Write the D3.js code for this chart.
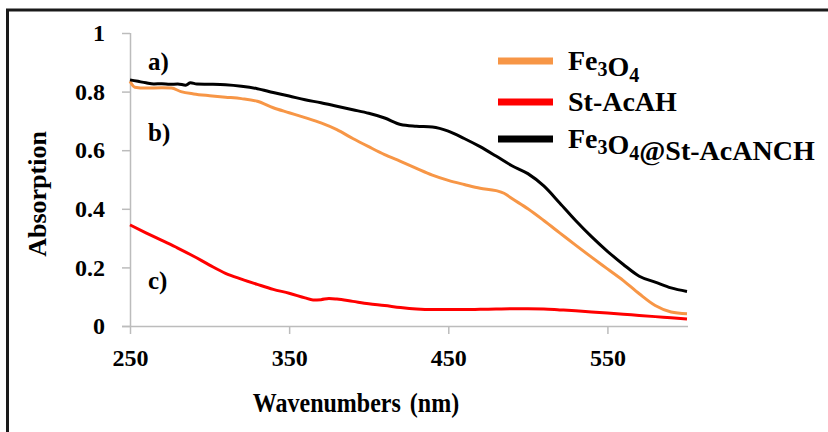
<!DOCTYPE html>
<html>
<head>
<meta charset="utf-8">
<script src="https://cdn.jsdelivr.net/npm/d3@7"></script>
<style>
  body { margin: 0; background: #fff; }
</style>
</head>
<body>
<div id="chart"></div>
<script>
// Define SVG area dimensions
var svgWidth = 828;
var svgHeight = 432;
var serif = "Liberation Serif";

// wavelengths and absorption values
var wlFe3O4 = [250, 253, 260, 270, 276, 282, 290, 300, 310, 320, 330, 340, 350, 360, 370, 380, 390, 400, 410, 420, 430, 440, 450, 460, 470, 480, 485, 490, 500, 510, 520, 530, 540, 550, 560, 570, 580, 590, 600];
var absFe3O4 = [0.835, 0.815, 0.812, 0.813, 0.812, 0.800, 0.792, 0.786, 0.781, 0.776, 0.767, 0.745, 0.728, 0.711, 0.693, 0.670, 0.640, 0.612, 0.585, 0.562, 0.538, 0.515, 0.497, 0.483, 0.470, 0.462, 0.453, 0.435, 0.400, 0.360, 0.318, 0.276, 0.235, 0.195, 0.155, 0.110, 0.070, 0.048, 0.042];

var wlStAcAH = [250, 260, 270, 280, 290, 300, 310, 320, 330, 340, 350, 360, 365, 370, 375, 380, 390, 400, 410, 420, 430, 440, 450, 460, 470, 480, 490, 500, 510, 520, 530, 540, 550, 560, 570, 580, 590, 600];
var absStAcAH = [0.345, 0.318, 0.292, 0.266, 0.238, 0.208, 0.180, 0.160, 0.142, 0.125, 0.112, 0.096, 0.089, 0.090, 0.094, 0.092, 0.084, 0.076, 0.070, 0.063, 0.058, 0.056, 0.056, 0.056, 0.057, 0.058, 0.059, 0.059, 0.058, 0.055, 0.052, 0.048, 0.044, 0.040, 0.036, 0.032, 0.028, 0.024];

var wlComposite = [250, 255, 260, 265, 270, 275, 280, 285, 288, 292, 300, 310, 320, 330, 340, 350, 360, 370, 380, 390, 400, 410, 420, 430, 440, 450, 460, 470, 480, 490, 500, 510, 520, 530, 540, 550, 560, 570, 580, 590, 600];
var absComposite = [0.840, 0.835, 0.830, 0.826, 0.827, 0.825, 0.826, 0.822, 0.830, 0.826, 0.825, 0.823, 0.818, 0.810, 0.797, 0.785, 0.772, 0.762, 0.750, 0.738, 0.726, 0.710, 0.688, 0.682, 0.679, 0.665, 0.640, 0.612, 0.580, 0.547, 0.520, 0.478, 0.420, 0.360, 0.305, 0.255, 0.210, 0.170, 0.150, 0.130, 0.118];

var xTicks = [250, 350, 450, 550];
var yTicks = [0, 0.2, 0.4, 0.6, 0.8, 1];

var seriesNames = ["Fe3O4", "St-AcAH", "Fe3O4@St-AcANCH"];
var seriesColors = ["#f79646", "#ff0000", "#000000"];
var curveLabels = ["a)", "b)", "c)"];
var curveLabelValues = [0.904, 0.662, 0.157];

var svg = d3.select("#chart")
    .append("svg")
    .attr("width", svgWidth)
    .attr("height", svgHeight)
    .attr("font-family", serif)
    .attr("font-weight", "bold");

// outer frame (only top and left edges show in the picture)
svg.append("rect")
    .attr("x", 7.5)
    .attr("y", 10)
    .attr("width", 900)
    .attr("height", 500)
    .attr("fill", "none")
    .attr("stroke", "#1a1a1a")
    .attr("stroke-width", 3);

// create scales
var xScale = d3.scaleLinear()
    .domain([250, 600])
    .range([130, 687]);

var yScale = d3.scaleLinear()
    .domain([0, 1])
    .range([326, 33]);

// x axis
var xAxis = d3.axisBottom(xScale)
    .tickValues(xTicks)
    .tickSize(8)
    .tickPadding(15)
    .tickFormat(d3.format("d"));

var xg = svg.append("g")
    .attr("transform", "translate(0, 326)")
    .call(xAxis)
    .attr("font-family", serif)
    .attr("font-size", 24);
xg.select(".domain").attr("d", "M122,0.5H688");

// y axis
var yAxis = d3.axisLeft(yScale)
    .tickValues(yTicks)
    .tickSize(8)
    .tickPadding(17)
    .tickFormat(d => d === 0 || d === 1 ? d : d3.format(".1f")(d));

var yg = svg.append("g")
    .attr("transform", "translate(130, 0)")
    .call(yAxis)
    .attr("font-family", serif)
    .attr("font-size", 24);
yg.select(".domain").attr("d", "M0.5,33V326");

svg.selectAll(".tick line, .domain")
    .attr("stroke", "#bcbcbc")
    .attr("stroke-width", 1.5);
svg.selectAll(".tick text").attr("fill", "#000");

// curves
var datasets = [
    d3.zip(wlFe3O4, absFe3O4),
    d3.zip(wlStAcAH, absStAcAH),
    d3.zip(wlComposite, absComposite)
];

var line = d3.line()
    .x(d => xScale(d[0]))
    .y(d => yScale(d[1]))
    .curve(d3.curveMonotoneX);

svg.selectAll(".curve")
    .data(datasets)
    .enter()
    .append("path")
    .attr("class", "curve")
    .attr("d", line)
    .attr("fill", "none")
    .attr("stroke", (d, i) => seriesColors[i])
    .attr("stroke-width", 3)
    .attr("stroke-linejoin", "round");

// a) b) c) labels
svg.selectAll(".clabel")
    .data(curveLabels)
    .enter()
    .append("text")
    .attr("class", "clabel")
    .attr("x", 148)
    .attr("y", (d, i) => yScale(curveLabelValues[i]) + 9)
    .attr("font-size", 25)
    .text(d => d);

// axis titles (x title is a bit taller in the picture)
svg.append("text")
    .attr("transform", "translate(356, 412) scale(1, 1.15)")
    .attr("text-anchor", "middle")
    .attr("font-size", 24)
    .attr("word-spacing", 3)
    .text("Wavenumbers (nm)");

svg.append("text")
    .attr("transform", "translate(46, 194) rotate(-90)")
    .attr("text-anchor", "middle")
    .attr("font-size", 26)
    .text("Absorption");

// legend
var legendY = [61, 102, 139];
var legend = svg.selectAll(".legend")
    .data(seriesNames)
    .enter()
    .append("g")
    .attr("class", "legend")
    .attr("transform", (d, i) => `translate(498, ${legendY[i]})`);

legend.append("line")
    .attr("x1", 0)
    .attr("x2", 55)
    .attr("stroke", (d, i) => seriesColors[i])
    .attr("stroke-width", 7);

// write chemical names with subscript digits
legend.append("text")
    .attr("x", 70)
    .attr("y", 9)
    .attr("font-size", 28)
    .each(function(d) {
        var t = d3.select(this);
        d.split(/(\d)/).forEach(function(part) {
            if (part === "") return;
            if (/\d/.test(part)) {
                t.append("tspan").attr("dy", 6).attr("font-size", 20).text(part);
                t.append("tspan").attr("dy", -6).text("");
            } else {
                t.append("tspan").text(part);
            }
        });
    });
</script>
</body>
</html>
